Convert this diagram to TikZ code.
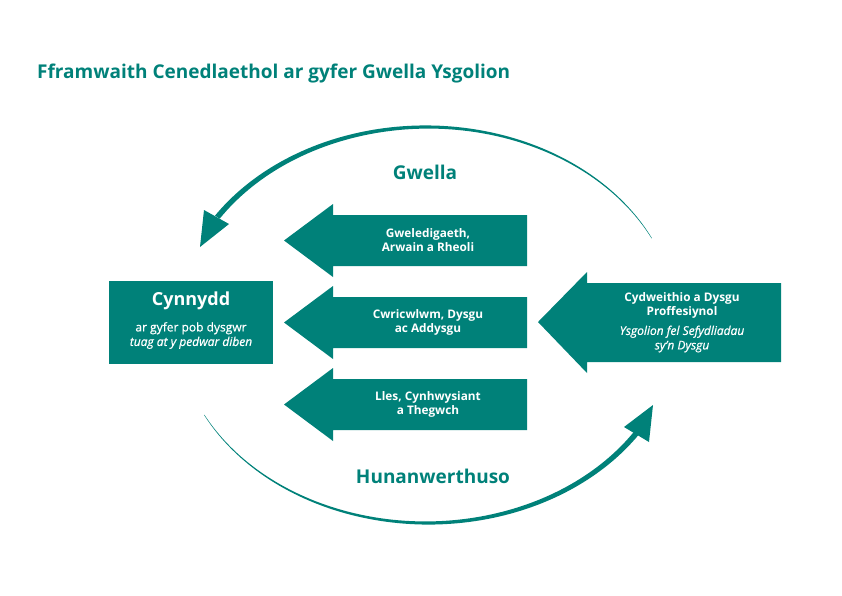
\documentclass[tikz,border=0pt]{standalone}
\usepackage{fontspec}
\setmainfont{Open Sans}
\newfontfamily\semib[FakeBold=0.6]{Open Sans}
\definecolor{wteal}{RGB}{0,129,121}
\begin{document}
\begin{tikzpicture}[x=1pt,y=-1pt,
  shapefill/.style={fill=wteal},
  lbl/.style={text=white,align=center,inner sep=0pt,font=\fontsize{11.8}{14}\selectfont\bfseries},
  sublbl/.style={text=white,align=center,inner sep=0pt,font=\fontsize{12}{14.5}\selectfont\semib},
  biglbl/.style={text=wteal,inner sep=0pt,font=\fontsize{19}{21}\selectfont\bfseries}]
\useasboundingbox (0,0) rectangle (842,595);

% title
\node[anchor=base west,inner sep=0pt,text=wteal,font=\fontsize{19}{21}\selectfont\bfseries] (title) at (37,78) {Fframwaith Cenedlaethol ar gyfer Gwella Ysgolion};

% tapered curved arrows
\fill[wteal] plot[domain=26:147,samples=90] ({427+(250+(0.2+2.6*(\x-26)/121))*cos(\x)},{325-(198+(0.2+2.6*(\x-26)/121))*sin(\x)})
  -- plot[domain=147:26,samples=90] ({427+(250-(0.2+2.6*(\x-26)/121))*cos(\x)},{325-(198-(0.2+2.6*(\x-26)/121))*sin(\x)}) -- cycle;
\fill[wteal] (200,247) -- (204,210) -- (229,224) -- cycle;

\fill[wteal] plot[domain=207:327,samples=90] ({427+(250+(0.2+2.6*(\x-207)/120))*cos(\x)},{325-(198+(0.2+2.6*(\x-207)/120))*sin(\x)})
  -- plot[domain=327:207,samples=90] ({427+(250-(0.2+2.6*(\x-207)/120))*cos(\x)},{325-(198-(0.2+2.6*(\x-207)/120))*sin(\x)}) -- cycle;
\fill[wteal] (653,405) -- (624,427) -- (649,442) -- cycle;

\node[biglbl] (gwella) at (425,172) {Gwella};
\node[biglbl] (hunan) at (433,476) {Hunanwerthuso};

% left box
\node[shapefill,minimum width=164,minimum height=83,inner sep=0pt] (box) at (191,322.5) {};
\node[text=white,inner sep=0pt,font=\fontsize{18}{20}\selectfont\bfseries] (cyn) at (191,301) {Cynnydd};
\node[sublbl] (cynsub) at (191,335.5) {ar gyfer pob dysgwr\\\textit{tuag at y pedwar diben}};

% three left block arrows
\foreach \c/\n in {240.5/a1,322.5/a2,404.5/a3}{
  \fill[wteal] (284,\c) -- (333,\c-36.5) -- (333,\c-25.5) -- (527,\c-25.5) -- (527,\c+25.5) -- (333,\c+25.5) -- (333,\c+36.5) -- cycle;
}
\node[lbl] (t1) at (428,240.5) {Gweledigaeth,\\Arwain a Rheoli};
\node[lbl] (t2) at (428,322.5) {Cwricwlwm, Dysgu\\ac Addysgu};
\node[lbl] (t3) at (428,404.5) {Lles, Cynhwysiant\\a Thegwch};

% right block arrow
\fill[wteal] (538,322) -- (587,272) -- (587,283) -- (781,283) -- (781,362) -- (587,362) -- (587,373) -- cycle;
\node[lbl] (r1) at (682,305) {Cydweithio a Dysgu\\Proffesiynol};
\node[sublbl] (r2) at (682,339) {\textit{Ysgolion fel Sefydliadau}\\\textit{sy’n Dysgu}};
\end{tikzpicture}
\end{document}
